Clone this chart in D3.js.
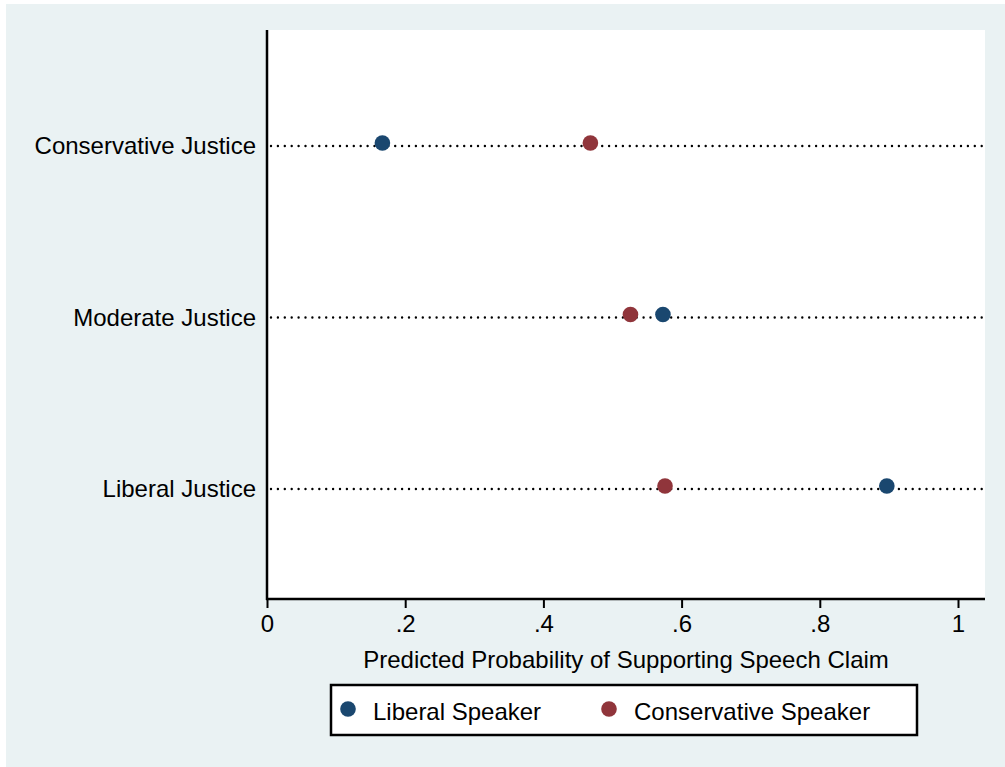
<!DOCTYPE html>
<html>
<head>
<meta charset="utf-8">
<script src="https://cdn.jsdelivr.net/npm/d3@7"></script>
<style>
  html, body { margin: 0; padding: 0; background: #ffffff; }
  svg { display: block; font-family: "Liberation Sans", Arial, Helvetica, sans-serif; }
</style>
</head>
<body>
<svg id="chart" width="1005" height="767"></svg>
<script>
// Justice ideology rows, top to bottom
const categories = ["Conservative Justice", "Moderate Justice", "Liberal Justice"];
// Predicted probabilities by speaker ideology
const liberalSpeaker = [0.167, 0.573, 0.897];
const conservativeSpeaker = [0.468, 0.526, 0.576];
const seriesNames = ["Liberal Speaker", "Conservative Speaker"];
const xTicks = [0, 0.2, 0.4, 0.6, 0.8, 1];
const xTickLabels = ["0", ".2", ".4", ".6", ".8", "1"];
const xTitle = "Predicted Probability of Supporting Speech Claim";

const colors = { liberal: "#1a476f", conservative: "#90353b" };
const fontSize = 24;

const svg = d3.select("#chart");
const W = 1005, H = 767;

// Outer graph region
svg.append("rect").attr("x", 6).attr("y", 4).attr("width", W - 6).attr("height", H - 4)
  .attr("fill", "#eaf2f3");

const plot = { left: 267, right: 985, top: 30, bottom: 599 };

svg.append("rect")
  .attr("x", plot.left).attr("y", plot.top)
  .attr("width", plot.right - plot.left).attr("height", plot.bottom - plot.top)
  .attr("fill", "#ffffff");

const x = d3.scaleLinear().domain([0, 1]).range([plot.left, 958]);
const y = d3.scalePoint().domain(categories).range([plot.top + 116, plot.bottom - 110]);

// Dotted guide lines for each row
svg.append("g").selectAll("line").data(categories).join("line")
  .attr("x1", plot.left + 4).attr("x2", plot.right)
  .attr("y1", d => y(d)).attr("y2", d => y(d))
  .attr("stroke", "#000").attr("stroke-width", 2.4)
  .attr("stroke-dasharray", "0 6.9").attr("stroke-linecap", "round");

// Row labels
svg.append("g").selectAll("text").data(categories).join("text")
  .attr("x", 256).attr("y", d => y(d) + 2)
  .attr("text-anchor", "end").attr("dominant-baseline", "middle")
  .attr("font-size", fontSize).attr("fill", "#000")
  .text(d => d);

// X axis
const xAxis = d3.axisBottom(x).tickValues(xTicks)
  .tickFormat((d, i) => xTickLabels[i]).tickSize(9).tickPadding(7);
const gx = svg.append("g").attr("transform", `translate(0,${plot.bottom})`).call(xAxis);
gx.select(".domain").remove();
gx.selectAll(".tick line").attr("stroke", "#000").attr("stroke-width", 2);
gx.selectAll(".tick text").attr("font-size", fontSize).attr("fill", "#000")
  .attr("font-family", "Liberation Sans, Arial, sans-serif");
svg.append("line").attr("x1", plot.left - 1).attr("x2", plot.right)
  .attr("y1", plot.bottom).attr("y2", plot.bottom)
  .attr("stroke", "#000").attr("stroke-width", 2.5);
// Y axis line
svg.append("line").attr("x1", plot.left).attr("x2", plot.left)
  .attr("y1", plot.top).attr("y2", plot.bottom + 1)
  .attr("stroke", "#000").attr("stroke-width", 2.5);

// Axis title centred under the plot region
svg.append("text").attr("x", (plot.left + plot.right) / 2).attr("y", 668)
  .attr("text-anchor", "middle").attr("font-size", fontSize).attr("fill", "#000")
  .text(xTitle);

// Markers
const rows = categories.map((c, i) => ({ c, lib: liberalSpeaker[i], con: conservativeSpeaker[i] }));
const r = 7.8, dy = -3;
svg.append("g").selectAll("circle").data(rows).join("circle")
  .attr("cx", d => x(d.lib)).attr("cy", d => y(d.c) + dy).attr("r", r)
  .attr("fill", colors.liberal);
svg.append("g").selectAll("circle").data(rows).join("circle")
  .attr("cx", d => x(d.con)).attr("cy", d => y(d.c) + dy).attr("r", r)
  .attr("fill", colors.conservative);

// Legend
const lg = svg.append("g");
lg.append("rect").attr("x", 331).attr("y", 685).attr("width", 586).attr("height", 50)
  .attr("fill", "#fff").attr("stroke", "#000").attr("stroke-width", 2.5);
const legendItems = [
  { name: seriesNames[0], color: colors.liberal, mx: 348, tx: 373 },
  { name: seriesNames[1], color: colors.conservative, mx: 609, tx: 634 }
];
legendItems.forEach(it => {
  lg.append("circle").attr("cx", it.mx).attr("cy", 709).attr("r", r).attr("fill", it.color);
  lg.append("text").attr("x", it.tx).attr("y", 714).attr("dominant-baseline", "middle")
    .attr("font-size", fontSize).attr("fill", "#000").text(it.name);
});
</script>
</body>
</html>
